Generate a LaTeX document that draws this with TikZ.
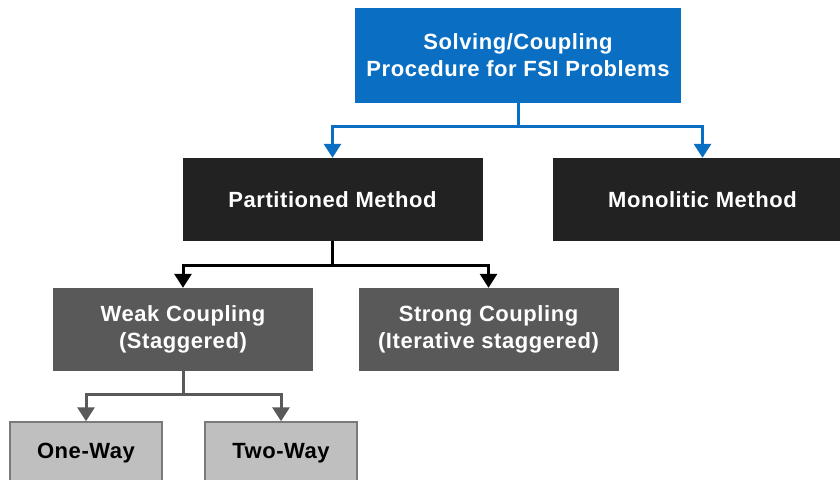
\documentclass[tikz,border=0pt]{standalone}
\usepackage{fontspec}
\setmainfont{Liberation Sans}[LetterSpace=2.5]
\usetikzlibrary{arrows.meta}
\definecolor{topblue}{HTML}{0A6FC2}
\definecolor{darkbox}{HTML}{222222}
\definecolor{midbox}{HTML}{595959}
\definecolor{lightbox}{HTML}{BFBFBF}
\definecolor{lightedge}{HTML}{7A7A7A}
\tikzset{
  box/.style={rectangle, inner sep=0pt, align=center, text=white,
    font=\fontsize{22}{27}\selectfont\bfseries},
  topbox/.style={box, fill=topblue, minimum width=326pt, minimum height=95pt},
  methodbox/.style={box, fill=darkbox, minimum width=300pt, minimum height=83pt},
  couplebox/.style={box, fill=midbox, minimum width=260pt, minimum height=83pt},
  waybox/.style={box, fill=lightbox, draw=lightedge, line width=1.5pt, text=black,
    minimum width=152pt, minimum height=62pt},
  link/.style={line width=3pt, -{Triangle[width=17pt,length=14pt]}},
}
\begin{document}
\begin{tikzpicture}[x=1pt,y=-1pt]
\useasboundingbox (0,0) rectangle (840,479);
\clip (0,0) rectangle (840,479);
\fill[white] (0,0) rectangle (840,479);

\node[topbox] (top) at (518,55.5) {Solving/Coupling\\Procedure for FSI Problems};
\node[methodbox] (part) at (332.5,199.5) {Partitioned Method};
\node[methodbox] (mono) at (702.5,199.5) {Monolitic Method};
\node[couplebox] (weak) at (183,329.5) {Weak Coupling\\(Staggered)};
\node[couplebox] (strong) at (488.5,329.5) {Strong Coupling\\(Iterative staggered)};
\node[waybox] (one) at (86,453) {One-Way};
\node[waybox] (two) at (281,453) {Two-Way};

\draw[link, topblue] (top.south) |- ([yshift=-23pt]top.south) -| (part.north);
\draw[link, topblue] (top.south) |- ([yshift=-23pt]top.south) -| (mono.north);
\draw[link, black] (part.south) |- ([yshift=-24pt]part.south) -| (weak.north);
\draw[link, black] (part.south) |- ([yshift=-24pt]part.south) -| (strong.north);
\draw[link, midbox] (weak.south) |- ([yshift=-23pt]weak.south) -| (one.north);
\draw[link, midbox] (weak.south) |- ([yshift=-23pt]weak.south) -| (two.north);
\end{tikzpicture}
\end{document}
